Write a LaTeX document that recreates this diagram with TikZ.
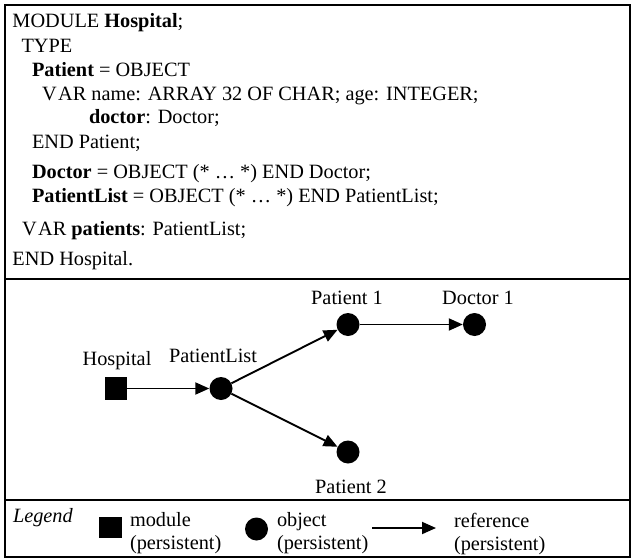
\documentclass[tikz,border=0pt]{standalone}
\usepackage{fontspec}
\setmainfont{Liberation Serif}
\usetikzlibrary{arrows.meta}
\tikzset{
  txt/.style={anchor=base west, inner sep=0pt, outer sep=0pt, font=\fontsize{20.3}{24}\selectfont},
  lbl/.style={anchor=base, inner sep=0pt, outer sep=0pt, font=\fontsize{20.3}{24}\selectfont},
  obj/.style={circle, fill=black, draw=none, inner sep=0pt, minimum size=23pt},
  modbox/.style={rectangle, fill=black, draw=none, inner sep=0pt, minimum width=22pt, minimum height=23pt},
  ref/.style={line width=1.9pt, -{Triangle[length=14pt,width=12pt]}},
  frame/.style={line width=2pt}
}
\begin{document}
\begin{tikzpicture}[x=1pt,y=-1pt]
\useasboundingbox (0,0) rectangle (631,559);
% frame and dividers
\draw[frame] (5,5) rectangle (629.5,557);
\draw[frame] (5,279) -- (629.5,279);
\draw[frame] (5,500) -- (629.5,500);
% source text
\node[txt] (t1) at (12.5,28) {MODULE \textbf{Hospital};};
\node[txt] (t2) at (21.5,53) {TYPE};
\node[txt] (t3) at (32,77) {\textbf{Patient} = OBJECT};
\node[txt] (t4) at (42,100) {V\kern1.5pt AR name: ARRAY 32 OF CHAR; age: INTEGER;};
\node[txt] (t5) at (89,124) {\textbf{doctor}: Doctor;};
\node[txt] (t6) at (32,148) {END Patient;};
\node[txt] (t7) at (32,178) {\textbf{Doctor} = OBJECT (* … *) END Doctor;};
\node[txt] (t8) at (32,202) {\textbf{PatientList} = OBJECT (* … *) END PatientList;};
\node[txt] (t9) at (22,235) {V\kern1.5pt AR \textbf{patients}: PatientList;};
\node[txt] (t10) at (12.5,265) {END Hospital.};
% diagram
\node[modbox] (hosp) at (116,388.5) {};
\node[obj] (plist) at (221,388.5) {};
\node[obj] (p1) at (348,324.5) {};
\node[obj] (d1) at (474.5,324.5) {};
\node[obj] (p2) at (348,452) {};
\node[lbl] (lhosp) at (117,365) {Hospital};
\node[lbl] (lplist) at (213,362) {PatientList};
\node[lbl] (lp1) at (347,304) {Patient 1};
\node[lbl] (ld1) at (478,304) {Doctor 1};
\node[lbl] (lp2) at (351,493) {Patient 2};
\draw[ref] (hosp.east) -- (plist.west);
\draw[ref] (plist) -- (p1);
\draw[ref] (p1) -- (d1);
\draw[ref] (plist) -- (p2);
% legend
\node[txt] (leg) at (13,522) {\itshape Legend};
\node[modbox, minimum height=21pt, minimum width=23pt] (lsq) at (110,527.5) {};
\node[txt] (lm1) at (130,526.5) {module};
\node[txt] (lm2) at (130,549) {(persistent)};
\node[obj] (lob) at (256.5,529) {};
\node[txt] (lo1) at (277,526.5) {object};
\node[txt] (lo2) at (277,549) {(persistent)};
\coordinate (la1) at (372,528);
\coordinate (la2) at (436,528);
\draw[ref] (la1) -- (la2);
\node[txt] (lr1) at (454,527) {reference};
\node[txt] (lr2) at (454,550) {(persistent)};
\end{tikzpicture}
\end{document}
